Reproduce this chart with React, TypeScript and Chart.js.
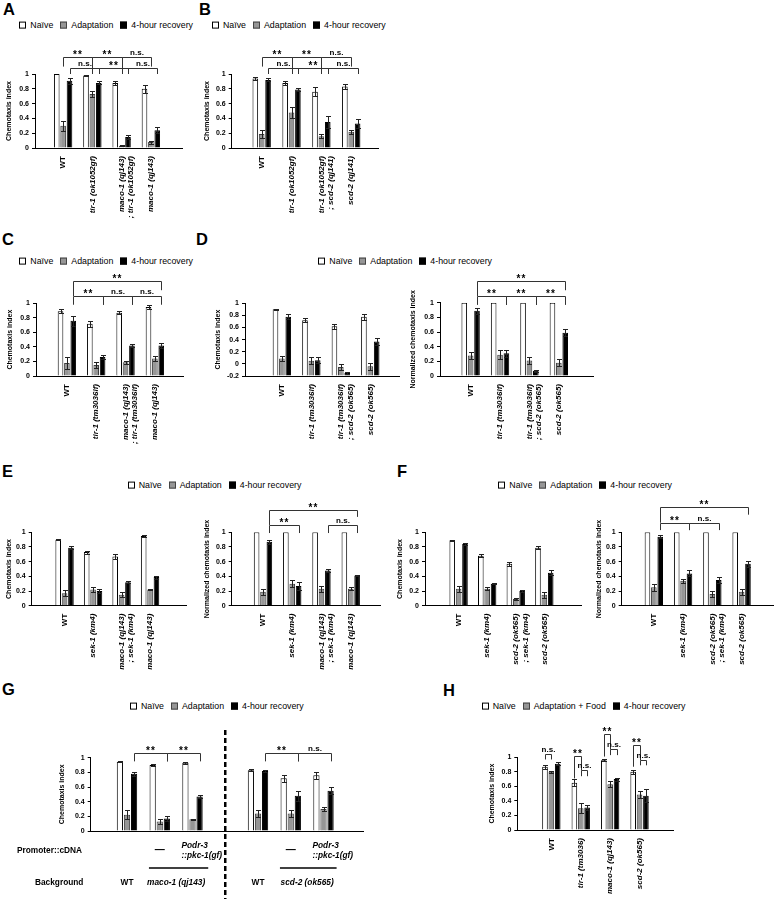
import React, { useEffect, useRef } from 'react';
import { Chart, registerables } from 'chart.js';

Chart.register(...registerables);

const FONT = '"Liberation Sans", Arial, Helvetica, sans-serif';
Chart.defaults.font.family = FONT;

const SERIES = ['Naïve', 'Adaptation', '4-hour recovery'];
const SERIES_H = ['Naïve', 'Adaptation + Food', '4-hour recovery'];
const FILLS = ['#ffffff', '#969696', '#000000'];
const EDGES = ['#000000', '#3c3c3c', '#000000'];

type Label = string | string[];
// [group1, series1, group2, series2, bar level, left leg end, right leg end, text]
type Bracket = [number, number, number, number, number, number, number, string];

// ---------- Panel A ----------
const A_LABELS: Label[] = ['WT', 'tir-1 (ok1052gf)', ['maco-1 (qj143)', '; tir-1 (ok1052gf)'], 'maco-1 (qj143)'];
const A_NAIVE = [1.0, 0.98, 0.88, 0.8];
const A_NAIVE_ERR = [0, 0.01, 0.03, 0.05];
const A_ADAPT = [0.3, 0.73, 0.03, 0.08];
const A_ADAPT_ERR = [0.07, 0.04, 0.005, 0.02];
const A_REC = [0.91, 0.88, 0.15, 0.24];
const A_REC_ERR = [0.04, 0.02, 0.03, 0.04];
const A_BRACKETS: Bracket[] = [
  [0, 1, 1, 1, 1.235, 1.1, 1.0, '**'], [1, 1, 2, 1, 1.235, 1.0, 1.0, '**'], [2, 1, 3, 1, 1.235, 1.0, 1.1, 'n.s.'],
  [0, 2, 1, 2, 1.077, 1.0, 1.0, 'n.s.'], [1, 2, 2, 2, 1.077, 1.0, 1.0, '**'], [2, 2, 3, 2, 1.077, 1.0, 1.0, 'n.s.'],
];

// ---------- Panel B ----------
const B_LABELS: Label[] = ['WT', 'tir-1 (ok1052gf)', ['tir-1 (ok1052gf)', '; scd-2 (qj141)'], 'scd-2 (qj141)'];
const B_NAIVE = [0.94, 0.88, 0.76, 0.83];
const B_NAIVE_ERR = [0.02, 0.03, 0.06, 0.03];
const B_ADAPT = [0.19, 0.48, 0.16, 0.22];
const B_ADAPT_ERR = [0.06, 0.07, 0.03, 0.03];
const B_REC = [0.92, 0.79, 0.35, 0.33];
const B_REC_ERR = [0.02, 0.02, 0.08, 0.06];
const B_BRACKETS: Bracket[] = [
  [0, 1, 1, 1, 1.235, 1.1, 1.0, '**'], [1, 1, 2, 1, 1.235, 1.0, 1.0, '**'], [2, 1, 3, 1, 1.235, 1.0, 1.1, 'n.s.'],
  [0, 2, 1, 2, 1.077, 1.0, 1.0, 'n.s.'], [1, 2, 2, 2, 1.077, 1.0, 1.0, '**'], [2, 2, 3, 2, 1.077, 1.0, 1.0, 'n.s.'],
];

// ---------- Panel C ----------
const C_LABELS: Label[] = ['WT', 'tir-1 (tm3036lf)', ['maco-1 (qj143)', '; tir-1 (tm3036lf)'], 'maco-1 (qj143)'];
const C_NAIVE = [0.89, 0.72, 0.87, 0.95];
const C_NAIVE_ERR = [0.03, 0.04, 0.02, 0.03];
const C_ADAPT = [0.18, 0.15, 0.19, 0.24];
const C_ADAPT_ERR = [0.08, 0.04, 0.02, 0.03];
const C_REC = [0.76, 0.26, 0.42, 0.42];
const C_REC_ERR = [0.07, 0.03, 0.02, 0.04];
const C_BRACKETS: Bracket[] = [
  [0, 2, 3, 2, 1.31, 1.1, 1.18, '**'],
  [0, 2, 1, 2, 1.1, 0.98, 0.98, '**'], [1, 2, 2, 2, 1.1, 0.98, 0.98, 'n.s.'], [2, 2, 3, 2, 1.1, 0.98, 0.98, 'n.s.'],
];

// ---------- Panel D ----------
const D_LABELS: Label[] = ['WT', 'tir-1 (tm3036lf)', ['tir-1 (tm3036lf)', '; scd-2 (ok565)'], 'scd-2 (ok565)'];
const D_NAIVE = [0.9, 0.72, 0.62, 0.78];
const D_NAIVE_ERR = [0.01, 0.03, 0.04, 0.05];
const D_ADAPT = [0.09, 0.05, -0.05, -0.04];
const D_ADAPT_ERR = [0.04, 0.06, 0.05, 0.06];
const D_REC = [0.78, 0.06, -0.15, 0.37];
const D_REC_ERR = [0.04, 0.05, 0.01, 0.06];
const DN_NAIVE = [1, 1, 1, 1];
const DN_NAIVE_ERR = [0, 0, 0, 0];
const DN_ADAPT = [0.28, 0.29, 0.21, 0.18];
const DN_ADAPT_ERR = [0.05, 0.06, 0.05, 0.05];
const DN_REC = [0.89, 0.31, 0.07, 0.59];
const DN_REC_ERR = [0.04, 0.05, 0.01, 0.05];
const DN_BRACKETS: Bracket[] = [
  [0, 2, 3, 2, 1.3, 1.09, 1.17, '**'],
  [0, 2, 1, 2, 1.09, 0.97, 0.97, '**'], [1, 2, 2, 2, 1.09, 0.97, 0.97, '**'], [2, 2, 3, 2, 1.09, 0.97, 0.97, '**'],
];

// ---------- Panel E ----------
const E_LABELS: Label[] = ['WT', 'sek-1 (km4)', ['maco-1 (qj143)', '; sek-1 (km4)'], 'maco-1 (qj143)'];
const E_NAIVE = [0.9, 0.73, 0.67, 0.95];
const E_NAIVE_ERR = [0.01, 0.02, 0.03, 0.01];
const E_ADAPT = [0.17, 0.22, 0.15, 0.22];
const E_ADAPT_ERR = [0.04, 0.04, 0.03, 0.01];
const E_REC = [0.79, 0.2, 0.32, 0.39];
const E_REC_ERR = [0.02, 0.03, 0.01, 0.02];
const EN_NAIVE = [1, 1, 1, 1];
const EN_NAIVE_ERR = [0, 0, 0, 0];
const EN_ADAPT = [0.19, 0.3, 0.23, 0.23];
const EN_ADAPT_ERR = [0.04, 0.05, 0.04, 0.02];
const EN_REC = [0.87, 0.27, 0.48, 0.41];
const EN_REC_ERR = [0.03, 0.05, 0.02, 0.01];
const EN_BRACKETS: Bracket[] = [
  [0, 2, 3, 2, 1.31, 1.1, 1.21, '**'],
  [0, 2, 1, 2, 1.1, 0.99, 0.99, '**'], [2, 2, 3, 2, 1.1, 0.99, 0.99, 'n.s.'],
];

// ---------- Panel F ----------
const F_LABELS: Label[] = ['WT', 'sek-1 (km4)', ['scd-2 (ok565)', '; sek-1 (km4)'], 'scd-2 (ok565)'];
const F_NAIVE = [0.89, 0.68, 0.57, 0.79];
const F_NAIVE_ERR = [0.01, 0.02, 0.03, 0.02];
const F_ADAPT = [0.23, 0.23, 0.09, 0.15];
const F_ADAPT_ERR = [0.04, 0.02, 0.01, 0.04];
const F_REC = [0.84, 0.3, 0.2, 0.45];
const F_REC_ERR = [0.01, 0.01, 0.02, 0.03];
const FN_NAIVE = [1, 1, 1, 1];
const FN_NAIVE_ERR = [0, 0, 0, 0];
const FN_ADAPT = [0.25, 0.34, 0.16, 0.19];
const FN_ADAPT_ERR = [0.05, 0.03, 0.04, 0.04];
const FN_REC = [0.94, 0.44, 0.35, 0.57];
const FN_REC_ERR = [0.02, 0.04, 0.04, 0.04];
const FN_BRACKETS: Bracket[] = [
  [0, 2, 3, 2, 1.34, 1.13, 1.24, '**'],
  [0, 2, 1, 2, 1.13, 1.03, 1.03, '**'], [1, 2, 2, 2, 1.13, 1.03, 1.03, 'n.s.'],
];

// ---------- Panel G ----------
const G_SLOTS = [0, 1, 2, 4, 5, 6];
const G_DIVIDER = 3;
const G_NAIVE = [0.945, 0.9, 0.93, 0.83, 0.72, 0.76];
const G_NAIVE_ERR = [0.01, 0.02, 0.01, 0.01, 0.05, 0.05];
const G_ADAPT = [0.22, 0.13, 0.16, 0.24, 0.24, 0.3];
const G_ADAPT_ERR = [0.06, 0.03, 0.01, 0.05, 0.05, 0.03];
const G_REC = [0.78, 0.17, 0.47, 0.82, 0.48, 0.55];
const G_REC_ERR = [0.03, 0.03, 0.02, 0.01, 0.07, 0.05];
const G_BRACKETS: Bracket[] = [
  [0, 2, 1, 2, 1.06, 0.95, 0.95, '**'], [1, 2, 2, 2, 1.06, 0.95, 0.95, '**'],
  [3, 2, 4, 2, 1.06, 0.95, 0.95, '**'], [4, 2, 5, 2, 1.06, 0.95, 0.95, 'n.s.'],
];
const G_PROMOTER: Label[] = ['', '—', ['Podr-3', '::pkc-1(gf)'], '', '—', ['Podr-3', '::pkc-1(gf)']];
const G_BACKGROUND: [string, number, boolean][] = [
  ['WT', 0, false], ['maco-1 (qj143)', 1.5, true], ['WT', 4, false], ['scd-2 (ok565)', 5.5, true],
];
const G_UNDERLINES: [number, number][] = [[0.67, 2.48], [4.67, 6.4]];

// ---------- Panel H ----------
const H_LABELS: Label[] = ['WT', 'tir-1 (tm3036)', 'maco-1 (qj143)', 'scd-2 (ok565)'];
const H_NAIVE = [0.87, 0.65, 0.96, 0.8];
const H_NAIVE_ERR = [0.03, 0.05, 0.01, 0.03];
const H_ADAPT = [0.8, 0.3, 0.63, 0.49];
const H_ADAPT_ERR = [0.01, 0.07, 0.04, 0.05];
const H_REC = [0.91, 0.31, 0.7, 0.47];
const H_REC_ERR = [0.02, 0.04, 0.02, 0.09];
const H_BRACKETS: Bracket[] = [
  [0, 0, 0, 1, 1.046, 0.97, 0.97, 'n.s.'],
  [1, 0, 1, 1, 1.02, 0.71, 0.82, '**'], [1, 1, 1, 2, 0.82, 0.74, 0.74, 'n.s.'],
  [2, 0, 2, 1, 1.32, 1.01, 1.11, '**'], [2, 1, 2, 2, 1.11, 1.03, 1.03, 'n.s.'],
  [3, 0, 3, 1, 1.17, 0.87, 0.96, '**'], [3, 1, 3, 2, 0.96, 0.89, 0.89, 'n.s.'],
];

interface Spec {
  key: string;
  box: [number, number, number, number];
  axisX: [number, number];
  axisY: [number, number];
  c0: number;
  pitch: number;
  yRange: [number, number];
  labels: Label[];
  slots?: number[];
  names?: string[];
  series: number[][];
  errors: number[][];
  yTitle: string;
  yTitleX: number;
  brackets: Bracket[];
  base?: number;
  extra?: (chart: any, spec: Spec) => void;
}

const CI = 'Chemotaxis index';
const NCI = 'Normalized chemotaxis index';

function drawG(chart: any, spec: Spec) {
  const ctx = chart.ctx;
  const xs = chart.scales.x;
  const px = (v: number) => xs.getPixelForValue(v);
  const top = spec.box[1];
  const h = spec.box[3];
  ctx.save();
  ctx.strokeStyle = '#000';
  ctx.lineWidth = 2.5;
  ctx.setLineDash([5, 3]);
  ctx.beginPath();
  ctx.moveTo(px(G_DIVIDER), 730 - top);
  ctx.lineTo(px(G_DIVIDER), h);
  ctx.stroke();
  ctx.setLineDash([]);
  ctx.lineWidth = 1.6;
  G_UNDERLINES.forEach(([a, b]) => {
    ctx.beginPath();
    ctx.moveTo(px(a), 868 - top);
    ctx.lineTo(px(b), 868 - top);
    ctx.stroke();
  });
  ctx.fillStyle = '#000';
  ctx.textBaseline = 'middle';
  ctx.font = `bold 8.3px ${FONT}`;
  ctx.textAlign = 'left';
  ctx.fillText('Promoter::cDNA', 17, 851 - top);
  ctx.fillText('Background', 35, 883 - top);
  G_PROMOTER.forEach((lab, i) => {
    const x = px(G_SLOTS[i]);
    if (Array.isArray(lab)) {
      ctx.font = `italic bold 8.3px ${FONT}`;
      ctx.textAlign = 'left';
      ctx.fillText(lab[0], x - 11, 846 - top);
      ctx.fillText(lab[1], x - 11, 856 - top);
    } else if (lab) {
      ctx.font = `bold 10px ${FONT}`;
      ctx.textAlign = 'center';
      ctx.fillText(lab, x, 850 - top);
    }
  });
  G_BACKGROUND.forEach(([t, v, it]) => {
    ctx.font = `${it ? 'italic ' : ''}bold 8.3px ${FONT}`;
    ctx.textAlign = 'center';
    ctx.fillText(t, px(v), 883 - top);
  });
  ctx.restore();
}

const SPECS: Spec[] = [
  {
    key: 'A', box: [0, 28, 197, 197], axisX: [35, 182], axisY: [74, 148], c0: 48, pitch: 39,
    yRange: [0, 1], labels: A_LABELS, series: [A_NAIVE, A_ADAPT, A_REC], errors: [A_NAIVE_ERR, A_ADAPT_ERR, A_REC_ERR],
    yTitle: CI, yTitleX: 9.5, brackets: A_BRACKETS,
  },
  {
    key: 'B', box: [197, 28, 193, 197], axisX: [231.7, 378], axisY: [74, 148], c0: 247.3, pitch: 39.8,
    yRange: [0, 1], labels: B_LABELS, series: [B_NAIVE, B_ADAPT, B_REC], errors: [B_NAIVE_ERR, B_ADAPT_ERR, B_REC_ERR],
    yTitle: CI, yTitleX: 207.5, brackets: B_BRACKETS,
  },
  {
    key: 'C', box: [0, 265, 197, 205], axisX: [36, 183], axisY: [303.3, 376], c0: 52.7, pitch: 39.1,
    yRange: [0, 1], labels: C_LABELS, series: [C_NAIVE, C_ADAPT, C_REC], errors: [C_NAIVE_ERR, C_ADAPT_ERR, C_REC_ERR],
    yTitle: CI, yTitleX: 10.5, brackets: C_BRACKETS,
  },
  {
    key: 'D1', box: [197, 265, 205, 205], axisX: [245, 399], axisY: [303.3, 376], c0: 268.5, pitch: 39.3,
    yRange: [-0.2, 1], labels: D_LABELS, series: [D_NAIVE, D_ADAPT, D_REC], errors: [D_NAIVE_ERR, D_ADAPT_ERR, D_REC_ERR],
    yTitle: CI, yTitleX: 218, brackets: [], base: -0.2,
  },
  {
    key: 'D2', box: [402, 265, 200, 205], axisX: [440, 593.3], axisY: [302.7, 376], c0: 455.3, pitch: 39.2,
    yRange: [0, 1], labels: D_LABELS, series: [DN_NAIVE, DN_ADAPT, DN_REC], errors: [DN_NAIVE_ERR, DN_ADAPT_ERR, DN_REC_ERR],
    yTitle: NCI, yTitleX: 413, brackets: DN_BRACKETS,
  },
  {
    key: 'E1', box: [0, 490, 197, 185], axisX: [31.7, 186.7], axisY: [532.3, 605.7], c0: 49.7, pitch: 38,
    yRange: [0, 1], labels: E_LABELS, series: [E_NAIVE, E_ADAPT, E_REC], errors: [E_NAIVE_ERR, E_ADAPT_ERR, E_REC_ERR],
    yTitle: CI, yTitleX: 9.5, brackets: [],
  },
  {
    key: 'E2', box: [197, 490, 193, 185], axisX: [231.7, 380], axisY: [532.3, 605.7], c0: 248.7, pitch: 39,
    yRange: [0, 1], labels: E_LABELS, series: [EN_NAIVE, EN_ADAPT, EN_REC], errors: [EN_NAIVE_ERR, EN_ADAPT_ERR, EN_REC_ERR],
    yTitle: NCI, yTitleX: 207, brackets: EN_BRACKETS,
  },
  {
    key: 'F1', box: [390, 490, 200, 185], axisX: [425, 581.7], axisY: [532.3, 605.7], c0: 443.7, pitch: 38.1,
    yRange: [0, 1], labels: F_LABELS, series: [F_NAIVE, F_ADAPT, F_REC], errors: [F_NAIVE_ERR, F_ADAPT_ERR, F_REC_ERR],
    yTitle: CI, yTitleX: 400.5, brackets: [],
  },
  {
    key: 'F2', box: [590, 490, 189, 185], axisX: [621.7, 773.3], axisY: [532.3, 605.7], c0: 639.3, pitch: 39,
    yRange: [0, 1], labels: F_LABELS, series: [FN_NAIVE, FN_ADAPT, FN_REC], errors: [FN_NAIVE_ERR, FN_ADAPT_ERR, FN_REC_ERR],
    yTitle: NCI, yTitleX: 599, brackets: FN_BRACKETS,
  },
  {
    key: 'G', box: [0, 715, 440, 184], axisX: [90.7, 363.3], axisY: [757.7, 831], c0: 107, pitch: 39.3,
    yRange: [0, 1], labels: [], slots: G_SLOTS, series: [G_NAIVE, G_ADAPT, G_REC], errors: [G_NAIVE_ERR, G_ADAPT_ERR, G_REC_ERR],
    yTitle: CI, yTitleX: 62.5, brackets: G_BRACKETS, extra: drawG,
  },
  {
    key: 'H', box: [440, 715, 339, 184], axisX: [517.3, 673.3], axisY: [757.3, 830], c0: 536.7, pitch: 39.2,
    yRange: [0, 1], labels: H_LABELS, names: SERIES_H, series: [H_NAIVE, H_ADAPT, H_REC], errors: [H_NAIVE_ERR, H_ADAPT_ERR, H_REC_ERR],
    yTitle: CI, yTitleX: 492.5, brackets: H_BRACKETS,
  },
];

const fmt = (v: number) => {
  const r = Math.round(v * 10) / 10;
  return r === 0 ? '0' : String(r);
};

function makeChart(canvas: HTMLCanvasElement, spec: Spec) {
  const [bl, bt, bw, bh] = spec.box;
  const [x0, x1] = spec.axisX;
  const [yTopPx, yBotPx] = spec.axisY;
  const slots = spec.slots ?? spec.series[0].map((_, i) => i);
  const xMin = -(spec.c0 - x0) / spec.pitch;
  const xMax = (x1 - spec.c0) / spec.pitch;
  const yAxisW = x0 - bl;
  const xAxisH = bt + bh - yBotPx;
  const titleSize = 7;
  const names = spec.names ?? SERIES;

  const datasets = spec.series.map((vals, d) => {
    const ds: any = {
      label: names[d],
      data: vals.map((v, i) => ({ x: slots[i], y: v })),
      backgroundColor: FILLS[d],
      borderColor: EDGES[d],
      borderWidth: 1,
      categoryPercentage: 25.5 / spec.pitch,
      barPercentage: 0.88,
    };
    if (spec.base !== undefined) ds.base = spec.base;
    return ds;
  });

  const errPlugin = {
    id: 'errbars',
    afterDatasetsDraw(chart: any) {
      const ctx = chart.ctx;
      const y = chart.scales.y;
      ctx.save();
      ctx.strokeStyle = '#222';
      ctx.lineWidth = 1;
      spec.series.forEach((vals, d) => {
        const meta = chart.getDatasetMeta(d);
        meta.data.forEach((el: any, i: number) => {
          const e = spec.errors[d][i];
          if (!e) return;
          const v = vals[i];
          const x = Math.round(el.x) + 0.5;
          const t = Math.round(y.getPixelForValue(v + e)) + 0.5;
          const b = Math.round(y.getPixelForValue(v - e)) + 0.5;
          ctx.beginPath();
          ctx.moveTo(x, t); ctx.lineTo(x, b);
          ctx.moveTo(x - 2.5, t); ctx.lineTo(x + 2.5, t);
          ctx.moveTo(x - 2.5, b); ctx.lineTo(x + 2.5, b);
          ctx.stroke();
        });
      });
      ctx.restore();
    },
  };

  const bracketPlugin = {
    id: 'sigbrackets',
    afterDraw(chart: any) {
      const ctx = chart.ctx;
      const y = chart.scales.y;
      ctx.save();
      ctx.strokeStyle = '#333';
      ctx.lineWidth = 1;
      ctx.fillStyle = '#000';
      ctx.textAlign = 'center';
      ctx.textBaseline = 'alphabetic';
      spec.brackets.forEach(([g1, s1, g2, s2, lvl, e1, e2, txt]) => {
        const xa = Math.round(chart.getDatasetMeta(s1).data[g1].x) + 0.5;
        const xb = Math.round(chart.getDatasetMeta(s2).data[g2].x) + 0.5;
        const yl = Math.round(y.getPixelForValue(lvl)) + 0.5;
        ctx.beginPath();
        ctx.moveTo(xa, y.getPixelForValue(e1));
        ctx.lineTo(xa, yl);
        ctx.lineTo(xb, yl);
        ctx.lineTo(xb, y.getPixelForValue(e2));
        ctx.stroke();
        const star = txt === '**';
        ctx.font = star ? `bold 10px ${FONT}` : `bold 8px ${FONT}`;
        try { (ctx as any).letterSpacing = star ? '1px' : '0px'; } catch (err) { /* ignore */ }
        ctx.fillText(txt, (xa + xb) / 2, yl - (star ? 0 : 3));
      });
      try { (ctx as any).letterSpacing = '0px'; } catch (err) { /* ignore */ }
      ctx.restore();
      if (spec.extra) spec.extra(chart, spec);
    },
  };

  return new Chart(canvas, {
    type: 'bar',
    data: { datasets },
    options: {
      responsive: false,
      animation: false,
      events: [],
      layout: { padding: { left: 0, top: yTopPx - bt, right: bl + bw - x1, bottom: 0 } },
      plugins: { legend: { display: false }, tooltip: { enabled: false }, title: { display: false } },
      scales: {
        x: {
          type: 'linear',
          position: 'bottom',
          min: xMin,
          max: xMax,
          grid: { display: false, drawTicks: false },
          border: { display: true, color: '#000', width: 1 },
          afterBuildTicks: (scale: any) => {
            scale.ticks = slots.map((v) => ({ value: v }));
          },
          afterFit: (scale: any) => {
            scale.height = xAxisH;
          },
          ticks: {
            display: spec.labels.length > 0,
            autoSkip: false,
            minRotation: 90,
            maxRotation: 90,
            padding: 8,
            color: '#000',
            callback: (v: any) => {
              const i = slots.indexOf(Number(v));
              return i >= 0 && spec.labels[i] !== undefined ? (spec.labels[i] as any) : '';
            },
            font: (ctx: any) => {
              const lab = ctx.tick && ctx.tick.label;
              const wt = lab === 'WT';
              return { family: FONT, size: 8, weight: 'bold', style: wt ? 'normal' : 'italic', lineHeight: 1.2 };
            },
          },
        } as any,
        y: {
          type: 'linear',
          min: spec.yRange[0],
          max: spec.yRange[1],
          grid: { display: true, drawOnChartArea: false, drawTicks: true, tickLength: 3, color: '#000' },
          border: { display: true, color: '#000', width: 1 },
          afterFit: (scale: any) => {
            scale.width = yAxisW;
          },
          ticks: {
            stepSize: 0.2,
            padding: 3,
            color: '#000',
            font: { family: FONT, size: 7, weight: 'bold' },
            callback: (v: any) => fmt(Number(v)),
          },
          title: {
            display: true,
            text: spec.yTitle,
            color: '#000',
            font: { family: FONT, size: titleSize, weight: 'bold' },
            padding: { top: spec.yTitleX - bl - (titleSize * 1.2) / 2, bottom: 0 },
          },
        } as any,
      },
    } as any,
    plugins: [errPlugin, bracketPlugin],
  });
}

function ChartCanvas({ spec }: { spec: Spec }) {
  const ref = useRef<HTMLCanvasElement>(null);
  useEffect(() => {
    if (!ref.current) return;
    const chart = makeChart(ref.current, spec);
    return () => chart.destroy();
  }, [spec]);
  const [l, t, w, h] = spec.box;
  return (
    <canvas
      ref={ref}
      width={w}
      height={h}
      style={{ position: 'absolute', left: l, top: t, width: w, height: h }}
    />
  );
}

const PANEL_LETTERS: [string, number, number][] = [
  ['A', 3, 3], ['B', 199, 3], ['C', 2, 233], ['D', 196, 233],
  ['E', 2, 465], ['F', 397, 465], ['G', 2, 683], ['H', 443, 684],
];

const LEGENDS: [number, number, string[]][] = [
  [19.3, 25, SERIES], [212, 25, SERIES], [19.3, 261, SERIES], [318.3, 261, SERIES],
  [127.7, 485, SERIES], [498.3, 485, SERIES], [130, 706, SERIES], [481.7, 706, SERIES_H],
];

function Legend({ x, y, names }: { x: number; y: number; names: string[] }) {
  return (
    <div
      style={{
        position: 'absolute', left: x, top: y, transform: 'translateY(-50%)',
        display: 'flex', alignItems: 'center', fontSize: 8.8, lineHeight: 1, whiteSpace: 'nowrap',
      }}
    >
      {names.map((n, i) => (
        <span key={i} style={{ display: 'flex', alignItems: 'center', marginRight: 7 }}>
          <span
            style={{
              display: 'inline-block', width: 7, height: 7, boxSizing: 'border-box',
              border: `1px solid ${i === 1 ? '#444' : '#000'}`, background: FILLS[i], marginRight: 4,
            }}
          />
          <span>{n}</span>
        </span>
      ))}
    </div>
  );
}

export default function App() {
  return (
    <div
      style={{
        position: 'absolute', left: 0, top: 0, width: 779, height: 899, background: '#fff',
        fontFamily: FONT, color: '#000', overflow: 'hidden',
      }}
    >
      {PANEL_LETTERS.map(([t, x, y]) => (
        <div
          key={t}
          style={{ position: 'absolute', left: x, top: y - 2.2, fontSize: 16.5, fontWeight: 'bold', lineHeight: 1 }}
        >
          {t}
        </div>
      ))}
      {LEGENDS.map(([x, y, n], i) => (
        <Legend key={i} x={x} y={y} names={n} />
      ))}
      {SPECS.map((s) => (
        <ChartCanvas key={s.key} spec={s} />
      ))}
    </div>
  );
}
